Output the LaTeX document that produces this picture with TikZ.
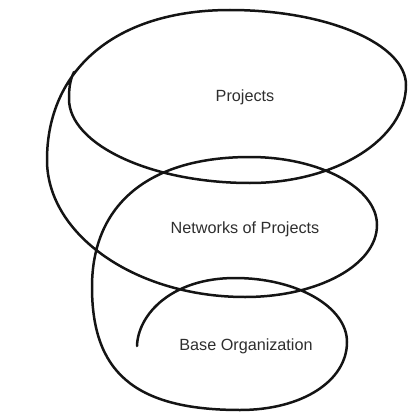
\documentclass[tikz,border=0pt]{standalone}
\usepackage{fontspec}
\setmainfont{Liberation Sans}
\begin{document}
\begin{tikzpicture}[x=1pt,y=-1pt,
  spiral/.style={line width=2.5pt,color=black!92,line cap=round,line join=round},
  lbl/.style={text=black!82,font=\fontsize{16.2}{19}\selectfont,inner sep=0pt}]
\useasboundingbox (0,0) rectangle (407,412);
% spiral, from inner end outwards
\draw[spiral]
  (137,346) .. controls (138,314) and (172,278) .. (235,278)
  .. controls (297,278) and (347,307) .. (347,342)
  .. controls (347,381) and (302,410) .. (240,410)
  .. controls (132,410) and (92,370) .. (92,287)
  .. controls (92,205) and (148,157) .. (250,157)
  .. controls (320,157) and (377,188) .. (377,225)
  .. controls (377,265) and (318,297) .. (245,297)
  .. controls (136,297) and (47,235) .. (47,160)
  .. controls (47,70) and (115,10) .. (230,10)
  .. controls (327,10) and (406,44) .. (406,85)
  .. controls (406,139) and (336,183) .. (250,183)
  .. controls (150,183) and (69,144) .. (69,99)
  .. controls (69,88) and (70,80) .. (74,72);
\node[lbl] (proj) at (245,97) {Projects};
\node[lbl] (net) at (245,229) {Networks of Projects};
\node[lbl] (base) at (246,346) {Base Organization};
\end{tikzpicture}
\end{document}
